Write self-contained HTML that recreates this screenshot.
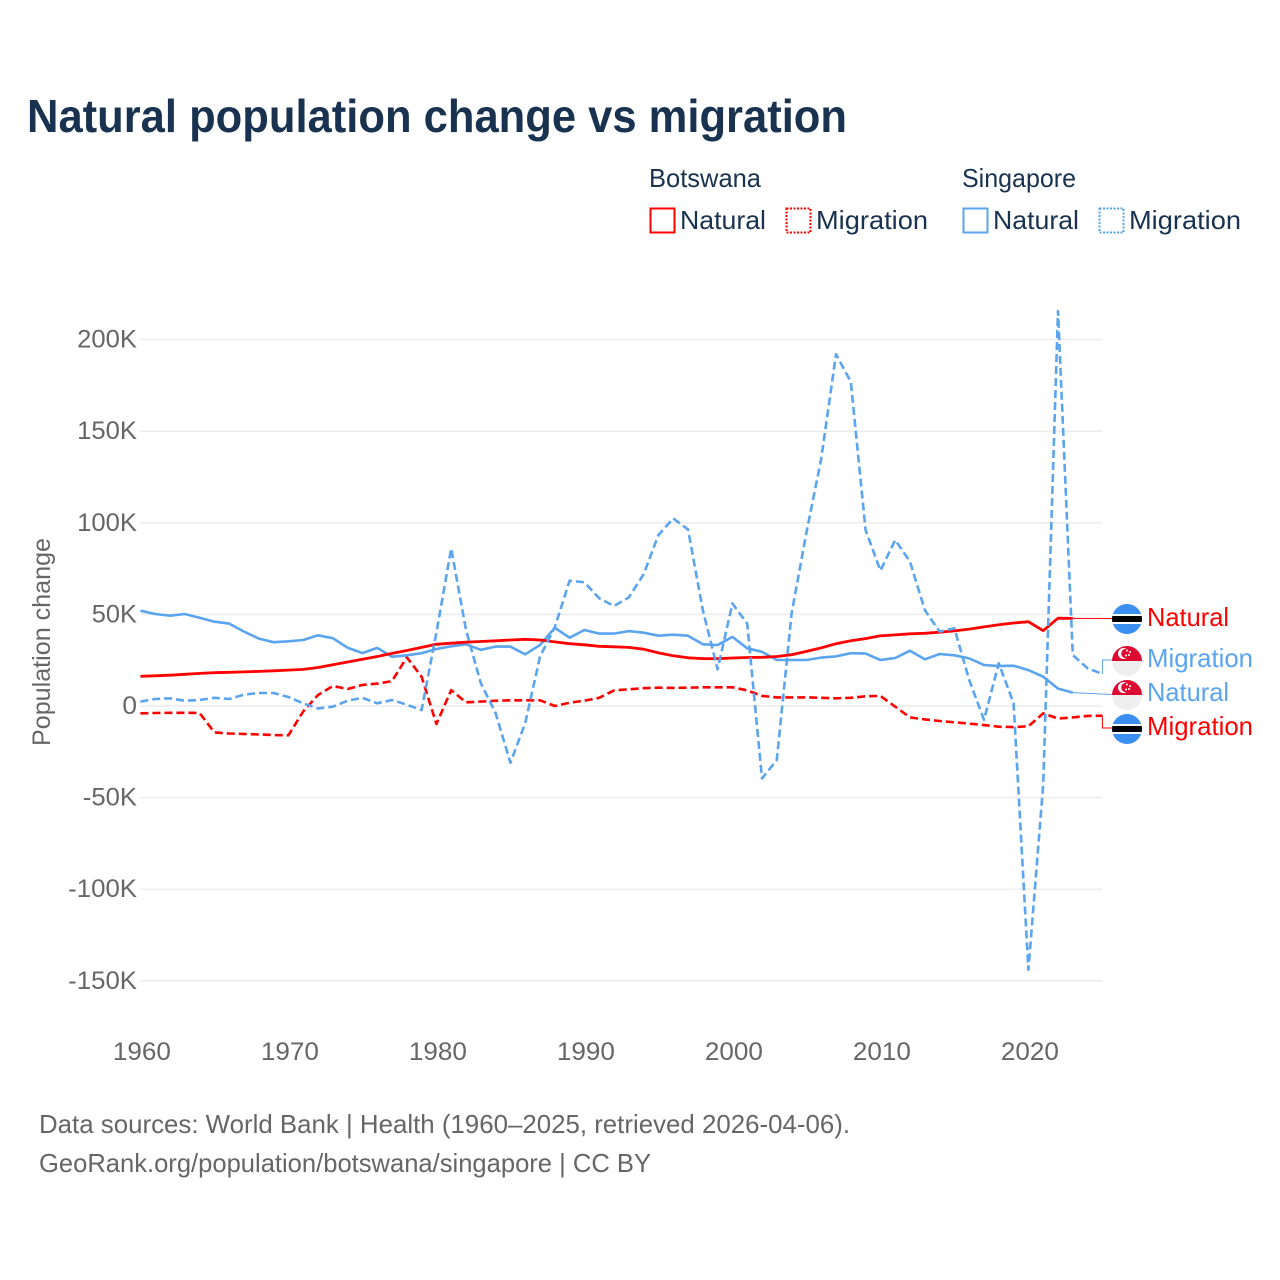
<!DOCTYPE html>
<html lang="en">
<head>
<meta charset="utf-8">
<title>Natural population change vs migration</title>
<style>
html,body{margin:0;padding:0;background:#fff;width:1280px;height:1280px;overflow:hidden}
svg{display:block}
text{font-family:"Liberation Sans",sans-serif}
</style>
</head>
<body>
<svg id="chart" xmlns="http://www.w3.org/2000/svg" width="1280" height="1280" viewBox="0 0 1280 1280">
  <rect width="1280" height="1280" fill="#fff"/>
  <text x="27" y="132" font-size="46" font-weight="700" fill="#18324f" textLength="820" lengthAdjust="spacingAndGlyphs">Natural population change vs migration</text>

  <g font-size="26" fill="#18324f">
    <text x="649" y="187" textLength="112" lengthAdjust="spacingAndGlyphs">Botswana</text>
    <text x="962" y="187" textLength="114" lengthAdjust="spacingAndGlyphs">Singapore</text>
    <rect x="650.5" y="208.5" width="24" height="24" fill="none" stroke="#ff0000" stroke-width="2"/>
    <text x="680" y="229" textLength="86" lengthAdjust="spacingAndGlyphs">Natural</text>
    <rect x="786.5" y="208.5" width="24" height="24" fill="none" stroke="#ff0000" stroke-width="2" stroke-dasharray="2 1.5"/>
    <text x="816" y="229" textLength="112" lengthAdjust="spacingAndGlyphs">Migration</text>
    <rect x="963.5" y="208.5" width="24" height="24" fill="none" stroke="#5ba4ef" stroke-width="2"/>
    <text x="993" y="229" textLength="86" lengthAdjust="spacingAndGlyphs">Natural</text>
    <rect x="1099.5" y="208.5" width="24" height="24" fill="none" stroke="#5ba4ef" stroke-width="2" stroke-dasharray="2 1.5"/>
    <text x="1129" y="229" textLength="112" lengthAdjust="spacingAndGlyphs">Migration</text>
  </g>

  <text transform="translate(50,642) rotate(-90)" text-anchor="middle" font-size="25" fill="#666" textLength="208" lengthAdjust="spacingAndGlyphs">Population change</text>

  <g id="grid"></g>
  <g id="yticks"></g>
  <g id="xticks"></g>
  <g id="series"></g>

  <g>
    <clipPath id="c1"><circle cx="1127" cy="619" r="15"/></clipPath>
    <g clip-path="url(#c1)">
      <rect x="1112" y="604" width="30" height="30" fill="#3a8ff0"/>
      <rect x="1112" y="614" width="30" height="10" fill="#fff"/>
      <rect x="1112" y="616" width="30" height="6" fill="#000"/>
    </g>
    <text x="1147" y="626" font-size="26" fill="#ff0000" textLength="82" lengthAdjust="spacingAndGlyphs">Natural</text>
  </g>
  <g>
    <clipPath id="c2"><circle cx="1127" cy="661" r="15"/></clipPath>
    <g clip-path="url(#c2)">
      <rect x="1112" y="646" width="30" height="15" fill="#dc0a33"/>
      <rect x="1112" y="661" width="30" height="15" fill="#eeeeee"/>
      <circle cx="1123.5" cy="653.5" r="5.5" fill="#fff"/>
      <circle cx="1126" cy="653.5" r="4.8" fill="#dc0a33"/>
      <circle cx="1127" cy="650.5" r="1" fill="#fff"/><circle cx="1130" cy="652" r="1" fill="#fff"/><circle cx="1129" cy="655" r="1" fill="#fff"/><circle cx="1126" cy="655.5" r="1" fill="#fff"/>
    </g>
    <text x="1147" y="667" font-size="26" fill="#5ba4ef" textLength="106" lengthAdjust="spacingAndGlyphs">Migration</text>
  </g>
  <g>
    <clipPath id="c3"><circle cx="1127" cy="695" r="15"/></clipPath>
    <g clip-path="url(#c3)">
      <rect x="1112" y="680" width="30" height="15" fill="#dc0a33"/>
      <rect x="1112" y="695" width="30" height="15" fill="#eeeeee"/>
      <circle cx="1123.5" cy="687.5" r="5.5" fill="#fff"/>
      <circle cx="1126" cy="687.5" r="4.8" fill="#dc0a33"/>
      <circle cx="1127" cy="684.5" r="1" fill="#fff"/><circle cx="1130" cy="686" r="1" fill="#fff"/><circle cx="1129" cy="689" r="1" fill="#fff"/><circle cx="1126" cy="689.5" r="1" fill="#fff"/>
    </g>
    <text x="1147" y="701" font-size="26" fill="#5ba4ef" textLength="82" lengthAdjust="spacingAndGlyphs">Natural</text>
  </g>
  <g>
    <clipPath id="c4"><circle cx="1127" cy="729" r="15"/></clipPath>
    <g clip-path="url(#c4)">
      <rect x="1112" y="714" width="30" height="30" fill="#3a8ff0"/>
      <rect x="1112" y="724" width="30" height="10" fill="#fff"/>
      <rect x="1112" y="726" width="30" height="6" fill="#000"/>
    </g>
    <text x="1147" y="735" font-size="26" fill="#ff0000" textLength="106" lengthAdjust="spacingAndGlyphs">Migration</text>
  </g>

  <text x="39" y="1133" font-size="26" fill="#666" textLength="811" lengthAdjust="spacingAndGlyphs">Data sources: World Bank | Health (1960–2025, retrieved 2026-04-06).</text>
  <text x="39" y="1172" font-size="26" fill="#666" textLength="612" lengthAdjust="spacingAndGlyphs">GeoRank.org/population/botswana/singapore | CC BY</text>
</svg>
<script>
var startYear = 1960;
var yTickValues = [200, 150, 100, 50, 0, -50, -100, -150];
var yTickLabels = ["200K", "150K", "100K", "50K", "0", "-50K", "-100K", "-150K"];
var xTickYears = [1960, 1970, 1980, 1990, 2000, 2010, 2020];

var botswanaNatural = [16.2,16.5,16.8,17.3,17.8,18.2,18.4,18.6,18.9,19.2,19.6,20,21,22.5,24,25.5,27,28.7,30.3,32,33.7,34.3,34.8,35.2,35.6,36,36.4,36,35,34,33.4,32.6,32.3,32,31,29,27.4,26.3,25.9,25.8,26.2,26.5,26.6,27,28,29.8,31.7,34,35.6,36.8,38.3,38.8,39.4,39.7,40.3,41,42,43.2,44.3,45.3,46,41.1,47.9,47.8];
var botswanaMigration = [-4,-3.8,-3.7,-3.7,-3.8,-14.4,-15,-15.3,-15.5,-15.9,-16,-3,6,10.9,9.3,11.5,12.2,13.6,26.6,16,-9.8,8.7,2,2.4,2.9,3.1,3.1,3.1,0,1.8,2.9,4.5,8.5,9.1,9.7,10,9.9,10,10.2,10.2,10.2,8.5,5.5,4.7,4.7,4.7,4.5,4.2,4.5,5.3,5.5,-0.4,-6.2,-7.3,-8.2,-8.9,-9.6,-10.4,-11.3,-11.5,-11.1,-4,-6.9,-6.2,-5.4,-5.3];
var singaporeNatural = [52,50.2,49.3,50.2,48.2,46,45,40.6,36.8,34.8,35.3,36,38.6,37,31.8,28.9,31.7,26.9,27.7,28.8,31.1,32.6,33.7,30.7,32.4,32.4,28.2,33.3,42.7,37.3,41.5,39.5,39.5,40.9,40,38.4,38.9,38.4,33.7,33.3,37.7,31.5,29.6,25.1,25.1,25.1,26.4,27.1,28.8,28.6,25.1,26.2,30.2,25.5,28.4,27.7,26,22.4,21.8,22,19.6,16,9.5,7.3];
var singaporeMigration = [2.4,3.8,4.2,2.9,3.3,4.5,3.8,6.2,7.1,7.1,4.9,1.5,-1.3,-0.4,2.9,4.5,1.5,3.3,0.7,-2.2,40,86,41.5,12.5,-3.8,-31,-9.4,26.9,43,68.4,67.5,58.8,54.6,59.3,71.9,93.3,102.4,96.4,52.4,20,56,45,-39.5,-29.5,50.6,94.6,135,192,177,96,73.9,90.6,78.8,52.4,40.6,42.4,14.2,-7.6,23.3,1.5,-144,-43,215.6,27.8,20.6,17.5];

var NS = "http://www.w3.org/2000/svg";
function xScale(year) { return 140.4 + (year - startYear) * 14.8; }
function yScale(thousands) { return 706 - thousands * 1.832; }
function tickWidth(text) {
  var w = 0;
  for (var i = 0; i < text.length; i++) {
    w += text[i] === "-" ? 9 : (text[i] === "K" ? 16 : 14.6);
  }
  return w;
}

var grid = document.getElementById("grid");
var yticks = document.getElementById("yticks");
yTickValues.forEach(function (v, i) {
  var line = document.createElementNS(NS, "line");
  
  
  line.setAttribute("x1", 140);
  line.setAttribute("x2", 1102);
  line.setAttribute("y1", yScale(v));
  line.setAttribute("y2", yScale(v));
  line.setAttribute("stroke", "#ececec");
  line.setAttribute("stroke-width", "1.5");
  grid.appendChild(line);

  var label = document.createElementNS(NS, "text");
  
  
  label.setAttribute("x", 137);
  label.setAttribute("y", yScale(v) + 8);
  label.setAttribute("text-anchor", "end");
  label.setAttribute("font-size", "25");
  label.setAttribute("fill", "#666");
  label.setAttribute("textLength", tickWidth(yTickLabels[i]));
  label.setAttribute("lengthAdjust", "spacingAndGlyphs");
  label.textContent = yTickLabels[i];
  yticks.appendChild(label);
});

var xticks = document.getElementById("xticks");
xTickYears.forEach(function (yr) {
  var label = document.createElementNS(NS, "text");
  
  
  label.setAttribute("x", xScale(yr) + 1.5);
  label.setAttribute("y", 1060);
  label.setAttribute("text-anchor", "middle");
  label.setAttribute("font-size", "25");
  label.setAttribute("fill", "#666");
  label.setAttribute("textLength", "58");
  label.setAttribute("lengthAdjust", "spacingAndGlyphs");
  label.textContent = String(yr);
  xticks.appendChild(label);
});

var seriesGroup = document.getElementById("series");
function drawSeries(values, color, dashed, labelY, width, name) {
  var pts = values.map(function (v, i) {
    return xScale(startYear + i).toFixed(1) + "," + yScale(v).toFixed(1);
  });
  var path = document.createElementNS(NS, "polyline");
  
  
  path.setAttribute("points", pts.join(" "));
  path.setAttribute("fill", "none");
  path.setAttribute("stroke", color);
  path.setAttribute("stroke-width", width);
  path.setAttribute("stroke-linejoin", "round");
  if (dashed) { path.setAttribute("stroke-dasharray", "8 4"); }
  seriesGroup.appendChild(path);

  var lastX = xScale(startYear + values.length - 1);
  var lastY = yScale(values[values.length - 1]);
  var conn = document.createElementNS(NS, "polyline");
  
  
  conn.setAttribute("points", dashed
    ? lastX + "," + lastY + " " + lastX + "," + labelY + " 1112," + labelY
    : lastX + "," + lastY + " 1112," + labelY);
  conn.setAttribute("fill", "none");
  conn.setAttribute("stroke", color);
  conn.setAttribute("stroke-width", "1");
  seriesGroup.appendChild(conn);
}
drawSeries(botswanaMigration, "#ff0000", true, 728, 2.6, "line-botswana-migration");
drawSeries(singaporeNatural, "#5ba4ef", false, 694.5, 2.6, "line-singapore-natural");
drawSeries(botswanaNatural, "#ff0000", false, 618.5, 2.8, "line-botswana-natural");
drawSeries(singaporeMigration, "#5ba4ef", true, 660, 2.6, "line-singapore-migration");
</script>
</body>
</html>
